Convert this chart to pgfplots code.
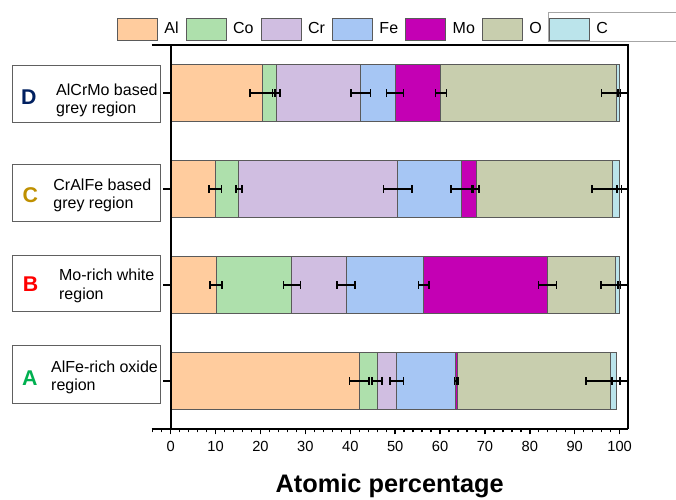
\documentclass[border=0pt]{standalone}
\usepackage{fontspec}
\setmainfont{Liberation Sans}
\usepackage{pgfplots}
\pgfplotsset{compat=1.18}
\definecolor{cAl}{HTML}{FFCC9E}
\definecolor{cCo}{HTML}{AEE0AC}
\definecolor{cCr}{HTML}{D0BEE1}
\definecolor{cFe}{HTML}{A6C6F4}
\definecolor{cMo}{HTML}{C400B4}
\definecolor{cO}{HTML}{C8CEAE}
\definecolor{cC}{HTML}{BBE4EB}
\definecolor{edgec}{HTML}{5A5A5A}
\definecolor{boxc}{HTML}{606060}
\definecolor{colD}{HTML}{002060}
\definecolor{colC}{HTML}{BF9000}
\definecolor{colB}{HTML}{FF0000}
\definecolor{colA}{HTML}{00B050}
\begin{document}
\begin{tikzpicture}
\pgfplotsset{
  common/.style={
    scale only axis, width=357pt, height=288pt,
    xmin=-4.23, xmax=101.8, ymin=0.5, ymax=4.5,
    at={(0,0)}, anchor=south west,
  },
  seg/.style={fill=#1, draw=edgec, line width=0.7pt,
    legend image code/.code={\draw[##1] (0pt,-8.25pt) rectangle (30pt,8.25pt);}},
  errplot/.style={draw=none, mark=none, forget plot,
    error bars/.cd, x dir=both, x explicit, error mark=-,
    error bar style={draw=black, solid, line width=1.2pt},
    error mark options={draw=black, solid, rotate=90, line width=1.2pt, mark size=3pt}},
}
\begin{axis}[common,
  xbar stacked, bar width=0.59,
  clip=false,
  axis x line*=bottom, axis y line=none,
  x axis line style={line width=1.25pt},
  xtick={0,10,...,100}, minor xtick={-4,-2,...,100},
  ytick=\empty,
  tick align=outside,
  major tick length=4pt, minor tick length=2.5pt,
  every tick/.style={black, line width=1pt},
  /pgf/number format/assume math mode=true,
  xticklabel style={font=\fontsize{11}{13}\selectfont, yshift=-2pt},
  xlabel={Atomic percentage},
  xlabel style={font=\bfseries\fontsize{19}{22}\selectfont, at={(axis description cs:0.5,-0.166)}, anchor=base},
  legend columns=-1,
  legend style={at={(axis description cs:-0.0729,1.0417)}, anchor=west, draw=none, fill=none,
    inner sep=0pt, outer sep=0pt, font=\fontsize{12}{14}\selectfont,
    /tikz/every odd column/.append style={column sep=4.3pt},
    /tikz/every even column/.append style={column sep=4.9pt},
    nodes={inner sep=0.5pt}},
]
% y: 1=A, 2=B, 3=C, 4=D
\addplot[seg=cAl] coordinates {(42.0,1) (10.1,2) (9.9,3) (20.4,4)};
\addplot[seg=cCo] coordinates {(4.0,1) (16.9,2) (5.3,3) (3.1,4)};
\addplot[seg=cCr] coordinates {(4.4,1) (12.1,2) (35.4,3) (18.8,4)};
\addplot[seg=cFe] coordinates {(13.1,1) (17.3,2) (14.1,3) (7.7,4)};
\addplot[seg=cMo] coordinates {(0.4,1) (27.5,2) (3.3,3) (10.2,4)};
\addplot[seg=cO] coordinates {(34.1,1) (15.1,2) (30.4,3) (39.2,4)};
\addplot[seg=cC] coordinates {(1.2,1) (0.9,2) (1.5,3) (0.5,4)};
\legend{Al,Co,Cr,Fe,Mo,O,C}
\end{axis}
\begin{axis}[common, hide axis, clip=true]
% error bars at the cumulative ends of each segment
\addplot[errplot] coordinates {(42.0,1) +- (2.2,0) (10.1,2) +- (1.3,0) (9.9,3) +- (1.4,0) (20.4,4) +- (2.8,0)};
\addplot[errplot] coordinates {(46.0,1) +- (1.1,0) (27.0,2) +- (1.9,0) (15.2,3) +- (0.7,0) (23.5,4) +- (0.8,0)};
\addplot[errplot] coordinates {(50.4,1) +- (1.5,0) (39.1,2) +- (2.0,0) (50.6,3) +- (3.2,0) (42.3,4) +- (2.2,0)};
\addplot[errplot] coordinates {(63.5,1) +- (0.3,0) (56.4,2) +- (1.2,0) (64.7,3) +- (2.3,0) (50.0,4) +- (1.9,0)};
\addplot[errplot] coordinates {(63.9,1) +- (0.2,0) (83.9,2) +- (2.0,0) (68.0,3) +- (0.7,0) (60.2,4) +- (1.2,0)};
\addplot[errplot] coordinates {(98.0,1) +- (5.5,0) (99.0,2) +- (3.2,0) (98.4,3) +- (4.6,0) (99.4,4) +- (3.4,0)};
\addplot[errplot] coordinates {(99.2,1) +- (0.9,0) (99.9,2) +- (0.3,0) (99.9,3) +- (0.5,0) (99.9,4) +- (0.3,0)};
\end{axis}
% frame: top, right, and y axis line at x = 0
\draw[line width=1.25pt] (0pt,288pt) -- (357pt,288pt) -- (357pt,0pt);
\draw[line width=1.25pt] (14.25pt,0pt) -- (14.25pt,288pt);
\foreach \yy in {36,108,180,252} {\draw[line width=1.25pt] (14.25pt,\yy pt) -- (8.25pt,\yy pt);}
% legend frame around C
\draw[draw=gray!70, line width=0.8pt] (297.5pt,290.9pt) rectangle (396pt,312.5pt);
% region labels
\draw[draw=boxc, line width=0.75pt, fill=white] (-104.03pt,229.7pt) rectangle (6.24pt,272.9pt);
\node[font=\bfseries\fontsize{16}{18}\selectfont, text=colD] at (-92.1pt,249.1pt) {D};
\node[anchor=west, align=left, inner sep=0pt, font=\fontsize{12}{13.7}\selectfont] at (-71.8pt,246.2pt) {AlCrMo based\\grey region};
\draw[draw=boxc, line width=0.75pt, fill=white] (-104.03pt,155.5pt) rectangle (6.24pt,198.7pt);
\node[font=\bfseries\fontsize{16}{18}\selectfont, text=colC] at (-91.1pt,175.7pt) {C};
\node[anchor=west, align=left, inner sep=0pt, font=\fontsize{12}{13.7}\selectfont] at (-73.9pt,175.0pt) {CrAlFe based\\grey region};
\draw[draw=boxc, line width=0.75pt, fill=white] (-104.03pt,87.8pt) rectangle (6.24pt,130.3pt);
\node[font=\bfseries\fontsize{16}{18}\selectfont, text=colB] at (-90.8pt,108.7pt) {B};
\node[anchor=west, align=left, inner sep=0pt, font=\fontsize{12}{13.7}\selectfont] at (-69.6pt,107.3pt) {Mo-rich white\\region};
\draw[draw=boxc, line width=0.75pt, fill=white] (-104.03pt,19.4pt) rectangle (6.24pt,62.6pt);
\node[font=\bfseries\fontsize{16}{18}\selectfont, text=colA] at (-91.4pt,38.2pt) {A};
\node[anchor=west, align=left, inner sep=0pt, font=\fontsize{12}{13.7}\selectfont] at (-75.6pt,38.9pt) {AlFe-rich oxide\\region};
\pgfresetboundingbox
\path (-113.78pt,-53.25pt) rectangle (393.22pt,321.75pt);
\end{tikzpicture}
\end{document}
